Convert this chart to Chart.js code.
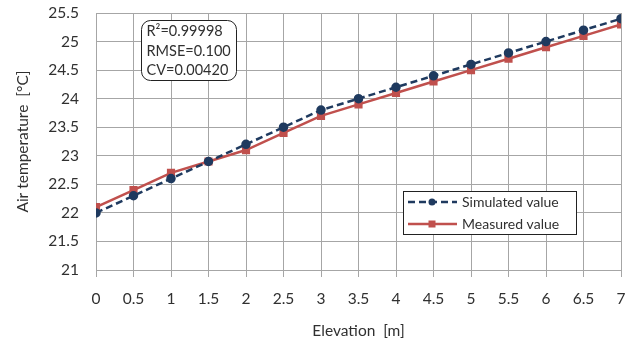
<!DOCTYPE html>
<html>
<head>
<meta charset="utf-8">
<script src="https://cdn.jsdelivr.net/npm/chart.js@4/dist/chart.umd.min.js"></script>
<style>
  html, body { margin: 0; padding: 0; background: #fff; }
  #wrap { width: 631px; height: 340px; position: relative; }
</style>
</head>
<body>
<div id="wrap"><canvas id="chart"></canvas></div>
<script>
const elevations = [0, 0.5, 1, 1.5, 2, 2.5, 3, 3.5, 4, 4.5, 5, 5.5, 6, 6.5, 7];
const simulated = [22.0, 22.3, 22.6, 22.9, 23.2, 23.5, 23.8, 24.0, 24.2, 24.4, 24.6, 24.8, 25.0, 25.2, 25.4];
const measured = [22.1, 22.4, 22.7, 22.9, 23.1, 23.4, 23.7, 23.9, 24.1, 24.3, 24.5, 24.7, 24.9, 25.1, 25.3];
const statLines = ["R²=0.99998", "RMSE=0.100", "CV=0.00420"];
const fontFamily = "Lato, 'Open Sans', sans-serif";

const simColor = "#1f3a5f";
const measColor = "#c0504d";
const textColor = "#303030";

// stats box + legend drawn on top of the plot
const overlay = {
  id: "overlay",
  afterDraw(chart) {
    const ctx = chart.ctx;
    ctx.save();
    // stats box (rounded)
    const bx = 141.5, by = 20.5, bw = 95, bh = 60, r = 9;
    ctx.beginPath();
    ctx.roundRect(bx, by, bw, bh, r);
    ctx.fillStyle = "#fff";
    ctx.fill();
    ctx.strokeStyle = "#222";
    ctx.lineWidth = 1;
    ctx.stroke();
    ctx.fillStyle = textColor;
    ctx.font = "14.5px " + fontFamily;
    ctx.textBaseline = "middle";
    statLines.forEach((t, i) => ctx.fillText(t, bx + 5, by + 11 + i * 19.5));

    // legend
    const lx = 403, ly = 191, lw = 173, lh = 43;
    ctx.fillStyle = "#fff";
    ctx.fillRect(lx, ly, lw, lh);
    ctx.strokeStyle = "#222";
    ctx.strokeRect(lx + 0.5, ly + 0.5, lw, lh);
    chart.data.datasets.forEach((ds, i) => {
      const y = ly + 11 + i * 22;
      ctx.strokeStyle = ds.borderColor;
      ctx.lineWidth = ds.borderWidth;
      ctx.setLineDash(ds.borderDash || []);
      ctx.beginPath();
      ctx.moveTo(lx + 5, y);
      ctx.lineTo(lx + 54, y);
      ctx.stroke();
      ctx.setLineDash([]);
      ctx.fillStyle = ds.pointBackgroundColor;
      if (ds.pointStyle === "rect") {
        ctx.fillRect(lx + 29 - 3.5, y - 3.5, 7, 7);
      } else {
        ctx.beginPath();
        ctx.arc(lx + 29, y, 3.5, 0, Math.PI * 2);
        ctx.fill();
      }
      ctx.fillStyle = textColor;
      ctx.font = "14px " + fontFamily;
      ctx.fillText(ds.label, lx + 59, y);
    });
    ctx.restore();
  }
};

new Chart(document.getElementById("chart"), {
  type: "line",
  data: {
    datasets: [
      {
        label: "Simulated value",
        data: elevations.map((x, i) => ({ x: x, y: simulated[i] })),
        borderColor: simColor,
        backgroundColor: simColor,
        pointBackgroundColor: simColor,
        pointBorderColor: simColor,
        borderWidth: 2.5,
        borderDash: [7, 4],
        pointStyle: "circle",
        pointRadius: 3.5,
        tension: 0
      },
      {
        label: "Measured value",
        data: elevations.map((x, i) => ({ x: x, y: measured[i] })),
        borderColor: measColor,
        backgroundColor: measColor,
        pointBackgroundColor: measColor,
        pointBorderColor: measColor,
        borderWidth: 2.5,
        pointStyle: "rect",
        pointRadius: 4,
        tension: 0
      }
    ]
  },
  options: {
    responsive: true,
    maintainAspectRatio: false,
    animation: false,
    layout: { padding: { left: 0, top: 13, right: 10, bottom: 0 } },
    plugins: {
      legend: { display: false },
      tooltip: { enabled: false }
    },
    scales: {
      x: {
        type: "linear",
        min: 0,
        max: 7,
        afterFit: s => { s.height = 70; s.paddingLeft = 0; s.paddingRight = 0; },
        afterBuildTicks: s => { s.ticks = elevations.map(v => ({ value: v })); },
        ticks: {
          color: textColor,
          font: { family: fontFamily, size: 15.5 },
          padding: 13,
          maxRotation: 0,
          autoSkip: false,
          callback: v => String(v)
        },
        grid: { color: "#a6a6a6", tickLength: 7, tickColor: "#a6a6a6" },
        border: { color: "#a6a6a6" },
        title: {
          display: true,
          text: "Elevation  [m]",
          color: textColor,
          font: { family: fontFamily, size: 15.5 },
          padding: { top: 3, bottom: 0 }
        }
      },
      y: {
        min: 21,
        max: 25.5,
        afterFit: s => { s.width = 96; s.paddingTop = 0; s.paddingBottom = 0; },
        ticks: {
          stepSize: 0.5,
          color: textColor,
          font: { family: fontFamily, size: 15.5 },
          padding: 17,
          callback: v => String(v)
        },
        grid: { color: "#a6a6a6", tickLength: 0 },
        border: { color: "#a6a6a6" },
        title: {
          display: true,
          text: "Air temperature  [°C]",
          color: textColor,
          font: { family: fontFamily, size: 15.5 },
          padding: { top: 14, bottom: 0 }
        }
      }
    }
  },
  plugins: [overlay]
});
</script>
</body>
</html>
